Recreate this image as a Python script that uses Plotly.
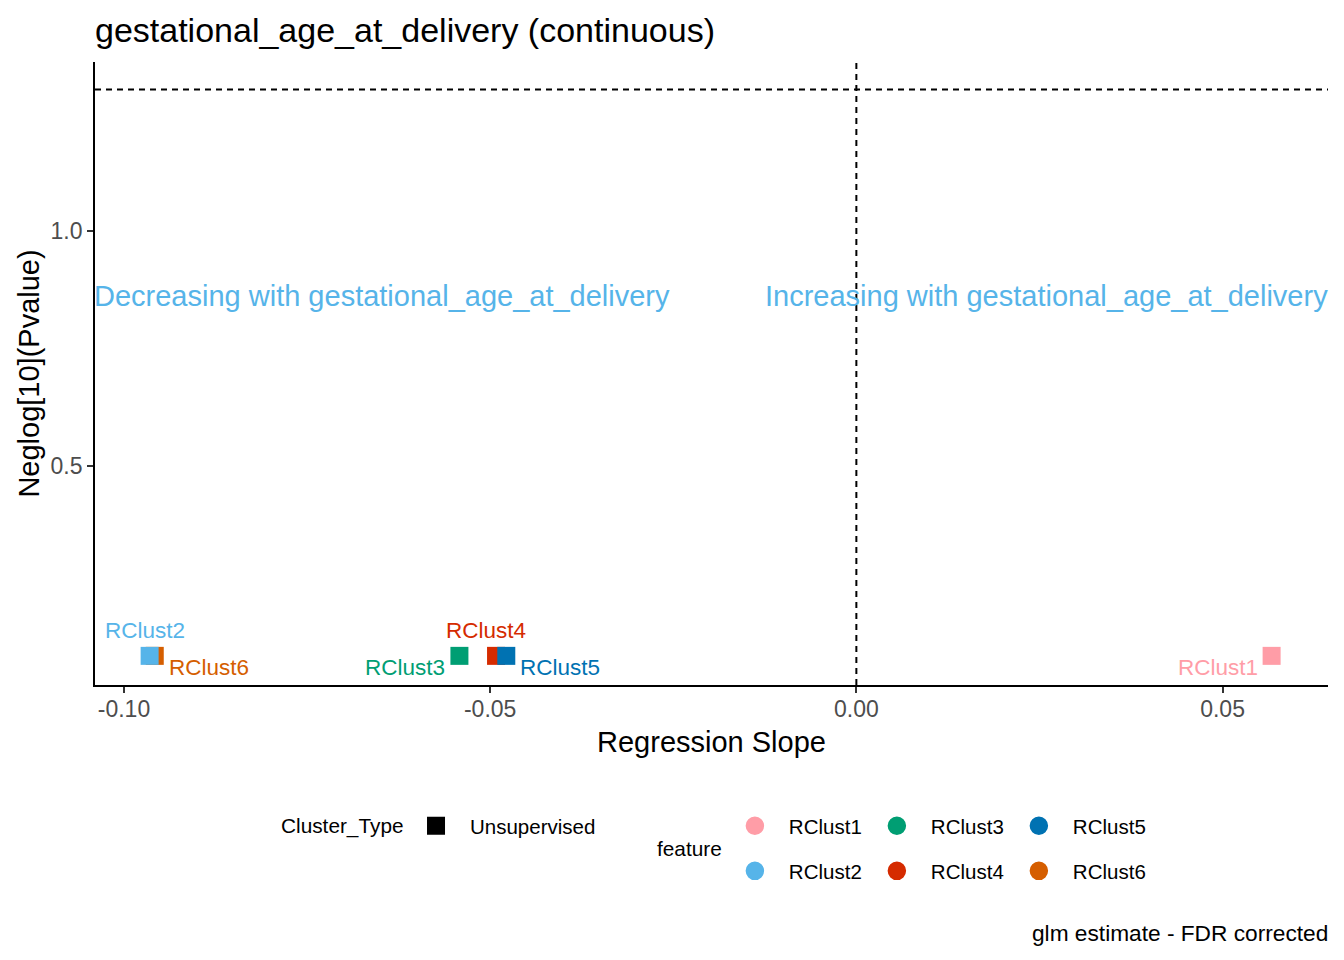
import plotly.graph_objects as go

# ---- data ----
features = ["RClust1", "RClust2", "RClust3", "RClust4", "RClust5", "RClust6"]
slope = [0.0567, -0.0965, -0.0542, -0.0492, -0.0478, -0.0958]
neglog_p = [0.096, 0.096, 0.096, 0.096, 0.096, 0.096]
cluster_type = ["Unsupervised", "Unsupervised", "Unsupervised", "Unsupervised", "Unsupervised", "Unsupervised"]
x_ticks = [-0.10, -0.05, 0.00, 0.05]
x_ticklabels = ["-0.10", "-0.05", "0.00", "0.05"]
y_ticks = [0.5, 1.0]
y_ticklabels = ["0.5", "1.0"]
sig_threshold = 1.301  # -log10(0.05)

# ---- styles ----
colors = {
    "RClust1": "#FF9DA7",
    "RClust2": "#56B4E9",
    "RClust3": "#009E73",
    "RClust4": "#D52B00",
    "RClust5": "#0072B2",
    "RClust6": "#D55E00",
}
draw_order = ["RClust1", "RClust6", "RClust2", "RClust3", "RClust4", "RClust5"]
# label offsets in px (repelled labels)
label_offset = {
    "RClust1": (-54, -12),
    "RClust2": (-5, 25),
    "RClust3": (-54, -12),
    "RClust4": (-10, 25),
    "RClust5": (54, -12),
    "RClust6": (54, -12),
}
# feature legend laid out in two rows (column-major like ggplot)
legend_row = {"RClust1": "legend2", "RClust3": "legend2", "RClust5": "legend2",
              "RClust2": "legend3", "RClust4": "legend3", "RClust6": "legend3"}
FONT = "Liberation Sans, Arial, sans-serif"

fig = go.Figure()

idx = {f: i for i, f in enumerate(features)}
for f in draw_order:
    i = idx[f]
    fig.add_trace(go.Scatter(
        x=[slope[i]], y=[neglog_p[i]], mode="markers",
        marker=dict(symbol="square", size=18, color=colors[f], line=dict(width=0)),
        showlegend=False, hoverinfo="x+y+name", name=f,
    ))

# legend: Cluster_Type
fig.add_trace(go.Scatter(
    x=[None], y=[None], mode="markers", name=cluster_type[0],
    marker=dict(symbol="square", size=16, color="black", line=dict(color="black", width=2)),
    legend="legend", showlegend=True,
))
# legend: feature
for f in features:
    fig.add_trace(go.Scatter(
        x=[None], y=[None], mode="markers", name=f,
        marker=dict(symbol="circle", size=16, color=colors[f], line=dict(color=colors[f], width=2.5)),
        legend=legend_row[f], showlegend=True,
    ))

annotations = []
for f in features:
    i = idx[f]
    dx, dy = label_offset[f]
    annotations.append(dict(
        x=slope[i], y=neglog_p[i], xref="x", yref="y", text=f, showarrow=False,
        xshift=dx, yshift=dy, font=dict(family=FONT, size=22.5, color=colors[f]),
        xanchor="center", yanchor="middle",
    ))

annotations.append(dict(
    x=0, xref="x domain", y=0.862, yref="y", xanchor="left", yanchor="middle", xshift=-3,
    text="Decreasing with gestational_age_at_delivery", showarrow=False,
    font=dict(family=FONT, size=29, color="#56B4E9"),
))
annotations.append(dict(
    x=1, xref="x domain", y=0.862, yref="y", xanchor="right", yanchor="middle", xshift=2,
    text="Increasing with gestational_age_at_delivery", showarrow=False,
    font=dict(family=FONT, size=29, color="#56B4E9"),
))
annotations.append(dict(
    x=1, xref="paper", y=-0.398, yref="paper", xanchor="right", yanchor="middle", xshift=2,
    text="glm estimate - FDR corrected", showarrow=False,
    font=dict(family=FONT, size=22.7, color="black"),
))
# legend titles
annotations.append(dict(
    x=0.1492, xref="paper", y=-0.2263, yref="paper", xanchor="left", yanchor="middle",
    text="Cluster_Type", showarrow=False, font=dict(family=FONT, size=20.8, color="black"),
))
annotations.append(dict(
    x=0.4542, xref="paper", y=-0.2632, yref="paper", xanchor="left", yanchor="middle",
    text="feature", showarrow=False, font=dict(family=FONT, size=20.8, color="black"),
))

shapes = [
    dict(type="line", xref="x domain", x0=0, x1=1, yref="y", y0=sig_threshold, y1=sig_threshold,
         line=dict(color="black", width=2, dash="6px,5px"), layer="below"),
    dict(type="line", xref="x", x0=0, x1=0, yref="y domain", y0=0, y1=1,
         line=dict(color="black", width=2, dash="6px,5px"), layer="below"),
]

leg_common = dict(orientation="h", xanchor="left", yanchor="middle",
                  font=dict(family=FONT, size=20.5, color="black"),
                  bgcolor="rgba(0,0,0,0)", itemwidth=58)

fig.update_layout(
    width=1344, height=960,
    margin=dict(l=95, r=16, t=62, b=275),
    paper_bgcolor="white", plot_bgcolor="white",
    font=dict(family=FONT, color="black"),
    title=dict(text="gestational_age_at_delivery (continuous)", x=0, xref="paper", xanchor="left",
               y=1 - 30 / 960, yref="container", yanchor="middle",
               font=dict(family=FONT, size=34, color="black")),
    xaxis=dict(range=[-0.10396, 0.0644], tickvals=x_ticks, ticktext=x_ticklabels,
               showgrid=False, zeroline=False, showline=True, linecolor="black", linewidth=1.7,
               ticks="outside", ticklen=6, tickwidth=1.7, tickcolor="#333333",
               ticklabelstandoff=-3,
               tickfont=dict(family=FONT, size=23, color="#4D4D4D"),
               title=dict(text="Regression Slope", font=dict(family=FONT, size=29, color="black"), standoff=10)),
    yaxis=dict(range=[0.034, 1.3596], tickvals=y_ticks, ticktext=y_ticklabels,
               showgrid=False, zeroline=False, showline=True, linecolor="black", linewidth=1.7,
               ticks="outside", ticklen=6, tickwidth=1.7, tickcolor="#333333",
               tickfont=dict(family=FONT, size=23, color="#4D4D4D"),
               title=dict(text="Neglog[10](Pvalue)", font=dict(family=FONT, size=29, color="black"), standoff=2)),
    legend=dict(x=0.249, y=-0.2263, **leg_common),
    legend2=dict(x=0.5076, y=-0.2263, entrywidth=69, **leg_common),
    legend3=dict(x=0.5076, y=-0.2986, entrywidth=69, **leg_common),
    annotations=annotations,
    shapes=shapes,
    showlegend=True,
)

fig.write_html("out.html", config={"displayModeBar": False},
               post_script="document.body.style.margin='0';")
